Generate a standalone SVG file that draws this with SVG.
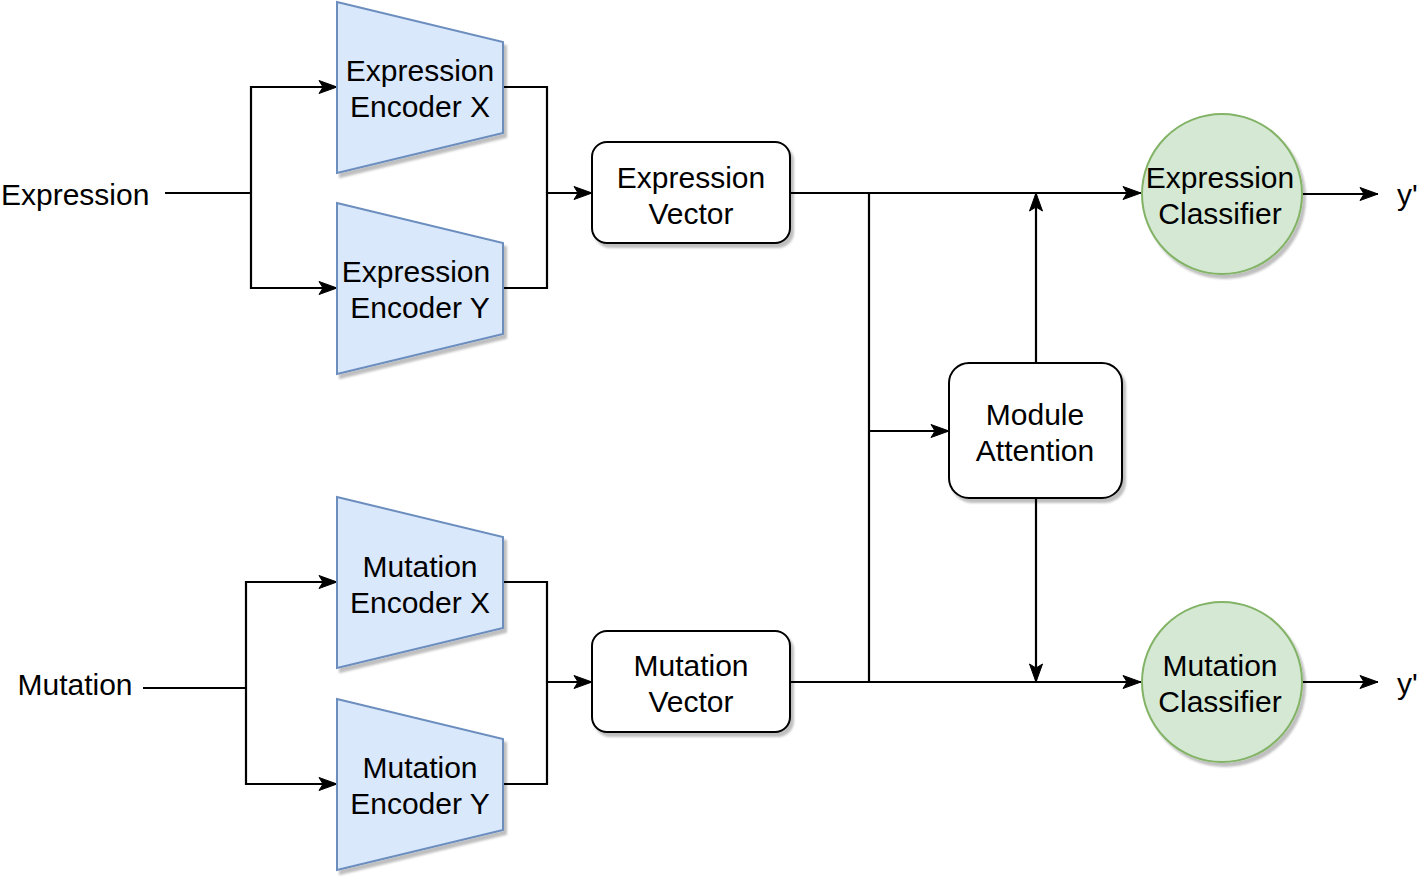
<svg xmlns="http://www.w3.org/2000/svg" width="1417" height="879" viewBox="0 0 1417 879">
<style>
text{font-family:"Liberation Sans",Arial,Helvetica,sans-serif;font-size:30px;fill:#000;text-anchor:middle}
.enc{fill:#dae8fc;stroke:#6c8ebf;stroke-width:2}
.box{fill:#fff;stroke:#000;stroke-width:2}
.cls{fill:#d5e8d4;stroke:#82b366;stroke-width:2}
.sh{filter:url(#shadow)}
.c path{fill:none;stroke:#000;stroke-width:2.2}
.a{marker-end:url(#arr)}
</style>
<defs>
<filter id="shadow" x="-10%" y="-10%" width="130%" height="130%">
<feDropShadow dx="3" dy="4" stdDeviation="1" flood-color="#000" flood-opacity="0.25"/>
</filter>
<marker id="arr" markerUnits="userSpaceOnUse" markerWidth="20" markerHeight="16" viewBox="0 0 20 16" refX="19" refY="8" orient="auto">
<path d="M1,1.5 L19,8 L1,14.5 L5,8 Z" fill="#000" stroke="#000" stroke-width="1"/>
</marker>
</defs>
<rect width="1417" height="879" fill="#fff"/>
<g class="c" id="connectors">
<path d="M165,193 H251"/>
<path class="a" d="M251,193 V87 H337"/>
<path class="a" d="M251,193 V288 H337"/>
<path d="M503,87 H547 V193"/>
<path class="a" d="M503,288 H547 V193 H592"/>
<path d="M143,688 H246"/>
<path class="a" d="M246,688 V582 H337"/>
<path class="a" d="M246,688 V784 H337"/>
<path d="M503,582 H547 V682"/>
<path class="a" d="M503,784 H547 V682 H592"/>
<path class="a" d="M790,193 H1141"/>
<path class="a" d="M790,682 H1141"/>
<path d="M869,193 V682"/>
<path class="a" d="M869,431 H949"/>
<path class="a" d="M1036,363 V193"/>
<path class="a" d="M1036,498 V682"/>
<path class="a" d="M1302,194 H1378"/>
<path class="a" d="M1302,682 H1378"/>
</g>
<g id="expression-label"><text x="1" y="205" style="text-anchor:start">Expression</text></g>
<g id="mutation-label"><text x="75" y="695">Mutation</text></g>
<g id="expr-enc-x">
<path class="enc sh" d="M337,2 L503,42 L503,133 L337,173 Z"/>
<text x="420" y="81">Expression</text>
<text x="420" y="117">Encoder X</text>
</g>
<g id="expr-enc-y">
<path class="enc sh" d="M337,203 L503,243 L503,334 L337,374 Z"/>
<text x="416" y="282">Expression</text>
<text x="420" y="318">Encoder Y</text>
</g>
<g id="mut-enc-x">
<path class="enc sh" d="M337,497 L503,537 L503,628 L337,668 Z"/>
<text x="420" y="577">Mutation</text>
<text x="420" y="613">Encoder X</text>
</g>
<g id="mut-enc-y">
<path class="enc sh" d="M337,699 L503,739 L503,830 L337,870 Z"/>
<text x="420" y="778">Mutation</text>
<text x="420" y="814">Encoder Y</text>
</g>
<g id="expr-vector">
<rect class="box sh" x="592" y="142" width="198" height="101" rx="15"/>
<text x="691" y="188">Expression</text>
<text x="691" y="224">Vector</text>
</g>
<g id="mut-vector">
<rect class="box sh" x="592" y="631" width="198" height="101" rx="15"/>
<text x="691" y="676">Mutation</text>
<text x="691" y="712">Vector</text>
</g>
<g id="module-attention">
<rect class="box sh" x="949" y="363" width="173" height="135" rx="20"/>
<text x="1035" y="425">Module</text>
<text x="1035" y="461">Attention</text>
</g>
<g id="expr-classifier">
<ellipse class="cls sh" cx="1222" cy="194" rx="80" ry="80"/>
<text x="1220" y="188">Expression</text>
<text x="1220" y="224">Classifier</text>
</g>
<g id="mut-classifier">
<ellipse class="cls sh" cx="1222" cy="682" rx="80" ry="80"/>
<text x="1220" y="676">Mutation</text>
<text x="1220" y="712">Classifier</text>
</g>
<g id="y-out-1"><text x="1397" y="205" style="text-anchor:start">y'</text></g>
<g id="y-out-2"><text x="1397" y="694" style="text-anchor:start">y'</text></g>
</svg>
